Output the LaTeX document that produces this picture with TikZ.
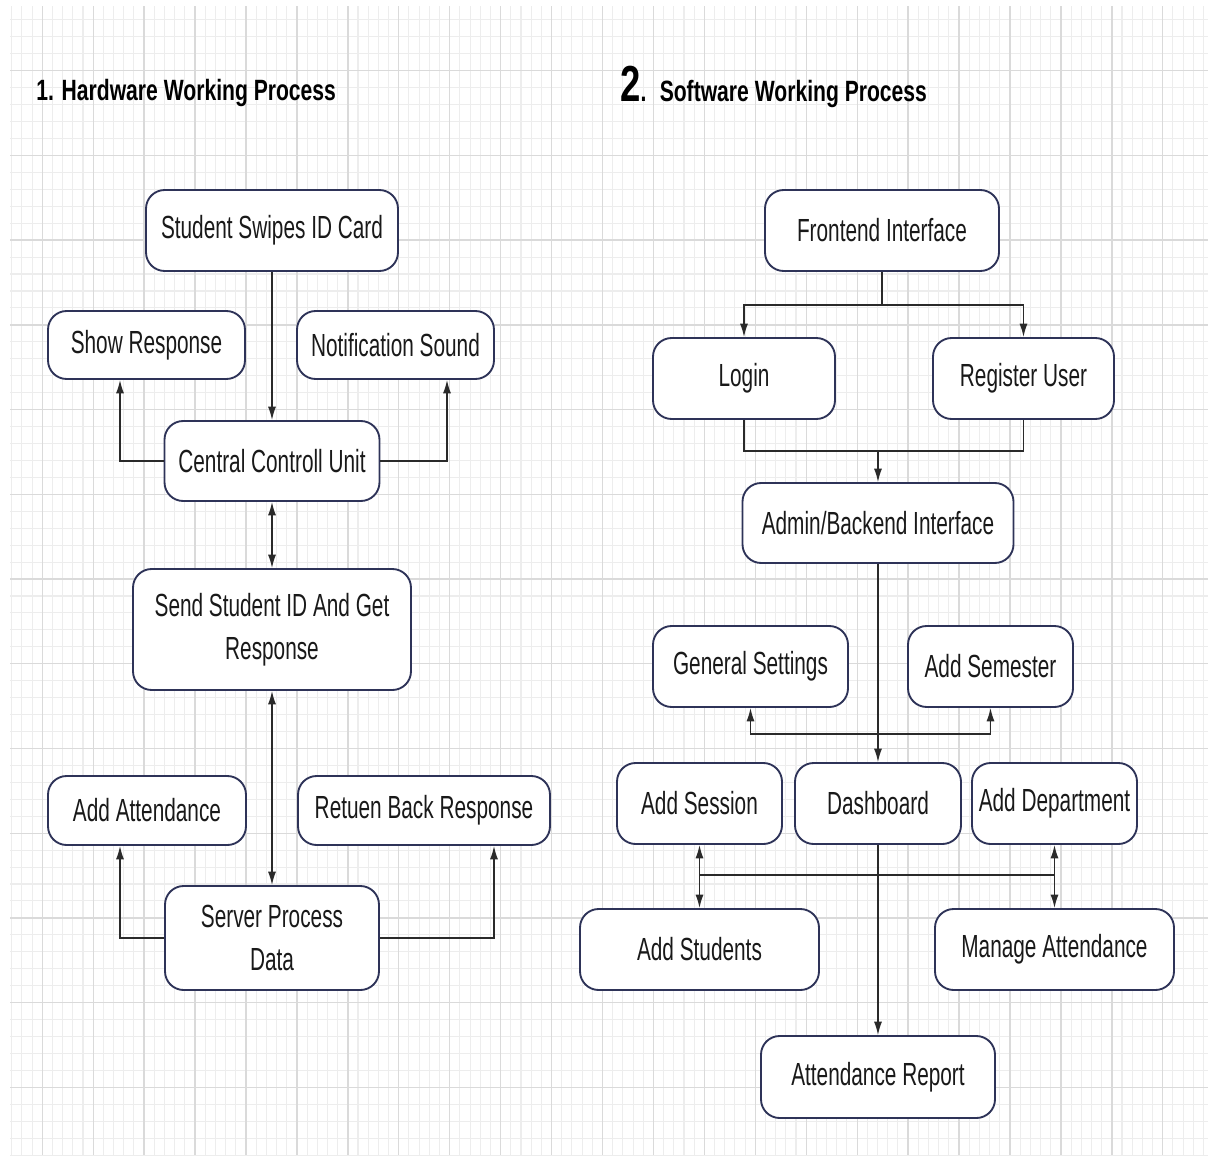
\documentclass[tikz,border=0pt]{standalone}
\usepackage{fontspec}
\setmainfont{Liberation Sans}[FakeStretch=0.65]
\newfontfamily\titlefont{Liberation Sans}[FakeStretch=0.72]
\usetikzlibrary{arrows.meta,calc}
\definecolor{boxline}{HTML}{2E3358}
\definecolor{wire}{HTML}{2A2A2A}
\definecolor{gridminor}{HTML}{EDEDED}
\definecolor{gridmajor}{HTML}{DADADA}

\begin{document}
\begin{tikzpicture}[x=0.75pt,y=-0.75pt,
  box/.style={draw=boxline,line width=1.4pt,fill=white,rounded corners=14pt,align=center,inner sep=0pt,
    font=\fontsize{24}{32}\selectfont,text=black!90},
  sz/.style 2 args={minimum width=#1*0.75pt,minimum height=#2*0.75pt},
  wirel/.style={draw=wire,line width=1.1pt},
  arr/.style={wirel,-{Latex[length=10pt,width=6pt]}},
  arr2/.style={wirel,{Latex[length=10pt,width=6pt]}-{Latex[length=10pt,width=6pt]}},
  title/.style={anchor=base west,inner sep=0pt,font=\titlefont\bfseries\fontsize{22}{26}\selectfont}]
\useasboundingbox (0,0) rectangle (1208,1160);
\fill[white] (0,0) rectangle (1208,1160);

\foreach \i in {0,...,117}
\draw[gridminor,line width=0.8pt] ({11.7+\i*10.186},6) -- ++(0,1149);
\foreach \j in {0,...,67}
\draw[gridminor,line width=0.8pt] (10,{19.87+\j*16.944}) -- ++(1198,0);
\foreach \i in {0,...,22}
\draw[gridmajor,line width=1pt] ({42.3+\i*50.93},6) -- ++(0,1149);
\foreach \j in {0,...,12}
\draw[gridmajor,line width=1pt] (10,{70.7+\j*84.72}) -- ++(1198,0);

\node[title] (t1) at (36,100) {1. Hardware Working Process};
\node[title] (t2) at (620,101) {{\fontsize{38}{38}\selectfont 2}.\hspace{10pt}Software Working Process};

\node[box,sz={252}{81}] (swipe) at (272,230.5) {Student Swipes ID Card};
\node[box,sz={197}{68}] (show) at (146.5,345) {Show Response};
\node[box,sz={197}{68}] (notif) at (395.5,345) {Notification Sound};
\node[box,sz={215}{80}] (ccu) at (272,461) {Central Controll Unit};
\node[box,sz={278}{121}] (send) at (272,629.5) {Send Student ID And Get\\Response};
\node[box,sz={198}{69}] (att) at (147,810.5) {Add Attendance};
\node[box,sz={252}{69}] (ret) at (424,810.5) {Retuen Back Response};
\node[box,sz={214}{104}] (server) at (272,938) {Server Process\\Data};

\draw[arr] (swipe) -- (ccu);
\draw[arr] (ccu.west) -| ($(show.south)+(-26.5,0)$);
\draw[arr] (ccu.east) -| ($(notif.south)+(51.5,0)$);
\draw[arr2] (ccu) -- (send);
\draw[arr2] (send) -- (server);
\draw[arr] (server.west) -| ($(att.south)+(-27,0)$);
\draw[arr] (server.east) -| ($(ret.south)+(70,0)$);

\node[box,sz={234}{81}] (front) at (882,230.5) {Frontend Interface};
\node[box,sz={182}{81}] (login) at (744,378.5) {Login};
\node[box,sz={181}{81}] (reg) at (1023.5,378.5) {Register User};
\node[box,sz={271}{80}] (admin) at (878,523) {Admin/Backend Interface};
\node[box,sz={195}{81}] (gen) at (750.5,666.5) {General Settings};
\node[box,sz={165}{81}] (sem) at (990.5,666.5) {Add Semester};
\node[box,sz={165}{81}] (sess) at (699.5,803.5) {Add Session};
\node[box,sz={166}{81}] (dash) at (878,803.5) {Dashboard};
\node[box,sz={165}{81}] (dept) at (1054.5,803.5) {Add Department};
\node[box,sz={239}{81}] (stud) at (699.5,949.5) {Add Students};
\node[box,sz={239}{81}] (manage) at (1054.5,949.5) {Manage Attendance};
\node[box,sz={234}{82}] (report) at (878,1077) {Attendance Report};

\coordinate (fj) at (882,305);
\coordinate (lj) at (878,451);
\coordinate (gj) at (878,734);
\coordinate (dj) at (878,875);

\draw[wirel] (front) -- (fj);
\draw[arr] (fj) -| (login);
\draw[arr] (fj) -| (reg);
\draw[wirel] (login.south) |- (lj);
\draw[wirel] (reg.south) |- (lj);
\draw[arr] (lj) -- (admin);
\draw[arr] (admin) -- (dash);
\draw[arr] (gj) -| (gen);
\draw[arr] (gj) -| (sem);
\draw[arr] (dash) -- (report);
\draw[arr2] (sess) -- (stud);
\draw[arr2] (dept) -- (manage);
\draw[wirel] (sess |- dj) -- (dept |- dj);
\end{tikzpicture}
\end{document}
